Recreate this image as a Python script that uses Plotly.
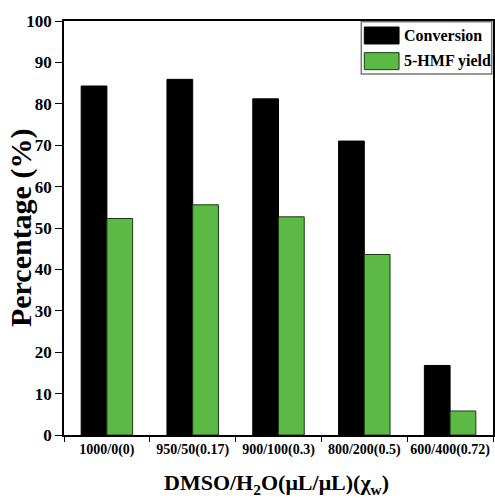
import plotly.graph_objects as go

categories = ["1000/0(0)", "950/50(0.17)", "900/100(0.3)", "800/200(0.5)", "600/400(0.72)"]
conversion = [84.3, 85.9, 81.2, 71.0, 16.8]
hmf_yield = [52.3, 55.6, 52.7, 43.6, 5.8]
series_names = ["Conversion", "5-HMF yield"]
colors = ["#000000", "#5cb946"]
y_ticks = list(range(0, 101, 10))

font_family = "Liberation Serif, Times New Roman, serif"

fig = go.Figure()
fig.add_trace(go.Bar(x=categories, y=conversion, name=series_names[0],
                     marker=dict(color=colors[0], line=dict(color="#000000", width=1))))
fig.add_trace(go.Bar(x=categories, y=hmf_yield, name=series_names[1],
                     marker=dict(color=colors[1], line=dict(color="#1a3a12", width=1))))

fig.update_layout(
    width=495, height=498,
    margin=dict(l=64, r=2, t=21, b=63),
    paper_bgcolor="white", plot_bgcolor="white",
    barmode="group", bargap=0.4, bargroupgap=0,
    showlegend=False,
    font=dict(family=font_family, color="black"),
)
fig.update_xaxes(
    type="category", automargin=False, tickangle=0,
    showline=True, linecolor="black", linewidth=1.5, mirror=True,
    ticks="outside", tickson="boundaries", ticklen=5, tickcolor="black", tickwidth=1.2,
    tickfont=dict(size=14, family=font_family, color="black", weight="bold"),
    showgrid=False,
)
fig.update_yaxes(
    range=[0, 100], tickvals=y_ticks, automargin=False,
    showline=True, linecolor="black", linewidth=1.5, mirror=True,
    ticks="outside", ticklen=7, tickcolor="black", tickwidth=1.2,
    tickfont=dict(size=17, family=font_family, color="black", weight="bold"),
    showgrid=False, zeroline=False,
)

# axis titles
fig.add_annotation(xref="paper", yref="paper", x=-0.100, y=0.5, text="Percentage (%)",
                   textangle=-90, showarrow=False, xanchor="center", yanchor="middle",
                   font=dict(size=30, family=font_family, color="black", weight="bold"))
fig.add_annotation(xref="paper", yref="paper", x=0.495, y=-0.118,
                   text="DMSO/H<sub>2</sub>O(μL/μL)(χ<sub>w</sub>)",
                   showarrow=False, xanchor="center", yanchor="middle",
                   font=dict(size=22, family=font_family, color="black", weight="bold"))

# legend box drawn manually (top-right inside the plot area)
fig.add_shape(type="rect", xref="paper", yref="paper", x0=0.693, x1=0.997, y0=0.872, y1=0.998,
              line=dict(color="#777777", width=1.5), fillcolor="white", layer="above")
entry_y = [0.965, 0.903]
for name, col, yy in zip(series_names, colors, entry_y):
    fig.add_shape(type="rect", xref="paper", yref="paper",
                  x0=0.700, x1=0.781, y0=yy - 0.0205, y1=yy + 0.0205,
                  line=dict(color="#1a3a12" if col != "#000000" else "black", width=1),
                  fillcolor=col, layer="above")
    fig.add_annotation(xref="paper", yref="paper", x=0.789, y=yy, text=name,
                       showarrow=False, xanchor="left", yanchor="middle",
                       font=dict(size=16, family=font_family, color="black", weight="bold"))

fig.write_html("out.html", config={"displayModeBar": False},
               post_script="document.body.style.margin='0';document.body.style.padding='0';")
